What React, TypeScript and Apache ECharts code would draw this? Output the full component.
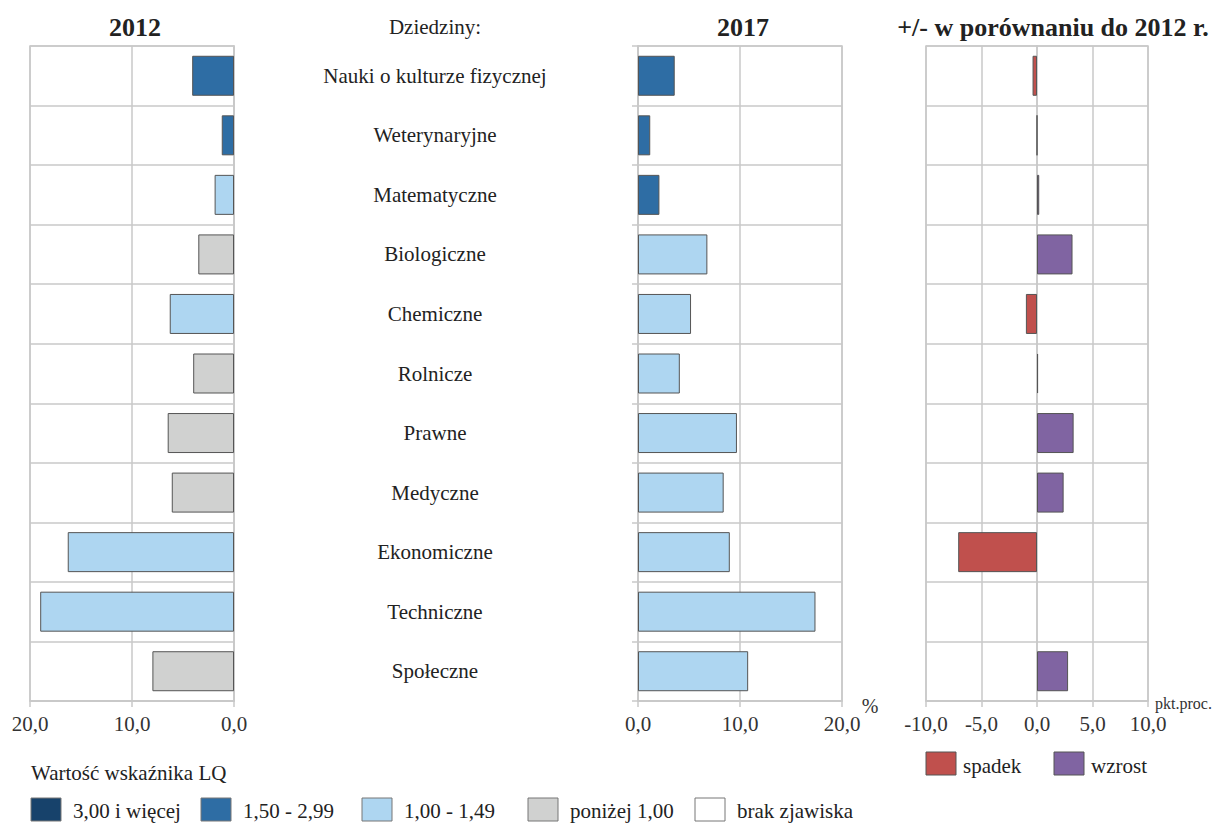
import React, { useEffect, useRef } from 'react';
import * as echarts from 'echarts';

const categories = [
  'Nauki o kulturze fizycznej',
  'Weterynaryjne',
  'Matematyczne',
  'Biologiczne',
  'Chemiczne',
  'Rolnicze',
  'Prawne',
  'Medyczne',
  'Ekonomiczne',
  'Techniczne',
  'Społeczne',
];
const values2012 = [4.1, 1.2, 1.9, 3.5, 6.3, 4.0, 6.5, 6.1, 16.3, 19.0, 8.0];
const class2012 = [1, 1, 2, 3, 2, 3, 3, 3, 2, 2, 3];
const values2017 = [3.6, 1.2, 2.1, 6.8, 5.2, 4.1, 9.7, 8.4, 9.0, 17.4, 10.8];
const class2017 = [1, 1, 1, 2, 2, 2, 2, 2, 2, 2, 2];
const diffValues: (number | null)[] = [-0.4, 0.0, 0.2, 3.2, -1.0, 0.1, 3.3, 2.4, -7.1, null, 2.8];

const lqLabels = ['3,00 i więcej', '1,50 - 2,99', '1,00 - 1,49', 'poniżej 1,00', 'brak zjawiska'];
const lqColors = ['#17426b', '#2e6da4', '#aed6f1', '#d0d1d0', '#ffffff'];
const diffLabels = ['spadek', 'wzrost'];
const diffColors = ['#c0504d', '#8064a2'];

const titles = ['2012', '2017', '+/- w porównaniu do 2012 r.'];

const FONT = 'Liberation Serif';
const GRID = { color: '#c8c8c8', width: 1.5 };
const fmt = (v: number) => v.toFixed(1).replace('.', ',');

export default function App() {
  const ref = useRef<HTMLDivElement>(null);
  useEffect(() => {
    if (!ref.current) return;
    const chart = echarts.init(ref.current, undefined, { renderer: 'svg' });

    const xBase = (idx: number, min: number, max: number, interval: number, inverse: boolean) => ({
      gridIndex: idx,
      type: 'value',
      min,
      max,
      interval,
      inverse,
      axisLine: { show: true, lineStyle: GRID },
      axisTick: { show: true, length: 6, lineStyle: GRID },
      splitLine: { show: true, lineStyle: GRID },
      axisLabel: { formatter: fmt, fontSize: 21, fontFamily: FONT, color: '#333', margin: 12 },
    });
    const yBase = (idx: number) => ({
      gridIndex: idx,
      type: 'category',
      data: categories,
      inverse: true,
      axisLine: { show: true, lineStyle: GRID },
      axisTick: { show: false, interval: 0 },
      splitLine: { show: true, interval: 0, lineStyle: GRID },
      axisLabel: { show: false, interval: 0 },
    });

    const barStyle = { borderColor: '#555', borderWidth: 1 };

    const txt = (text: string, x: number, y: number, size: number, align: string, bold = false, fill = '#222') => ({
      type: 'text', x, y,
      style: {
        text, fontSize: size, fontFamily: FONT, fontWeight: bold ? 'bold' : 'normal',
        fill, textAlign: align, textVerticalAlign: 'middle',
      },
    });

    const graphics: any[] = [];
    const titleX = [135, 743, 1053];
    titles.forEach((t, i) => graphics.push(txt(t, titleX[i], 27, 26, 'center', true)));
    graphics.push(txt('Dziedziny:', 435, 27, 21, 'center'));
    graphics.push(txt('%', 870, 706, 20, 'center', false, '#333'));
    graphics.push(txt('pkt.proc.', 1155, 703, 16, 'left', false, '#333'));
    graphics.push(txt('Wartość wskaźnika LQ', 31, 773, 21, 'left'));
    const lqBoxX = [31, 201, 362, 528, 695];
    lqLabels.forEach((l, i) => {
      graphics.push({
        type: 'rect', shape: { x: lqBoxX[i], y: 798, width: 30, height: 23 },
        style: { fill: lqColors[i], stroke: '#777', lineWidth: 1 },
      });
      graphics.push(txt(l, lqBoxX[i] + 42, 811, 21, 'left'));
    });
    const dBoxX = [926, 1054];
    diffLabels.forEach((l, i) => {
      graphics.push({
        type: 'rect', shape: { x: dBoxX[i], y: 752, width: 30, height: 23 },
        style: { fill: diffColors[i], stroke: '#555', lineWidth: 1 },
      });
      graphics.push(txt(l, dBoxX[i] + 37, 766, 21, 'left'));
    });

    chart.setOption({
      animation: false,
      backgroundColor: '#ffffff',
      textStyle: { fontFamily: FONT },
      grid: [
        { left: 30, top: 46, width: 204, height: 655, show: true, borderColor: '#c8c8c8', borderWidth: 1.5 },
        { left: 638, top: 46, width: 204, height: 655, show: true, borderColor: '#c8c8c8', borderWidth: 1.5 },
        { left: 926, top: 46, width: 222, height: 655, show: true, borderColor: '#c8c8c8', borderWidth: 1.5 },
      ],
      xAxis: [
        xBase(0, 0, 20, 10, true),
        xBase(1, 0, 20, 10, false),
        xBase(2, -10, 10, 5, false),
      ],
      yAxis: [
        {
          ...yBase(0),
          position: 'right',
          axisLabel: { show: true, interval: 0, align: 'center', margin: 201, fontSize: 21, fontFamily: FONT, color: '#222' },
        },
        {
          ...yBase(1),
          position: 'left',
          axisTick: { show: true, interval: 0, length: 6, lineStyle: GRID },
        },
        { ...yBase(2), position: 'left' },
      ],
      series: [
        {
          type: 'bar', xAxisIndex: 0, yAxisIndex: 0, barWidth: 40,
          itemStyle: barStyle,
          data: values2012.map((v, i) => ({ value: v, itemStyle: { color: lqColors[class2012[i]] } })),
        },
        {
          type: 'bar', xAxisIndex: 1, yAxisIndex: 1, barWidth: 40,
          itemStyle: barStyle,
          data: values2017.map((v, i) => ({ value: v, itemStyle: { color: lqColors[class2017[i]] } })),
        },
        {
          name: diffLabels[0],
          type: 'bar', xAxisIndex: 2, yAxisIndex: 2, barWidth: 40, barGap: '-100%',
          itemStyle: { ...barStyle, color: diffColors[0] },
          data: diffValues.map((v) => (v !== null && v < 0 ? v : '-')),
        },
        {
          name: diffLabels[1],
          type: 'bar', xAxisIndex: 2, yAxisIndex: 2, barWidth: 40, barGap: '-100%',
          itemStyle: { ...barStyle, color: diffColors[1] },
          data: diffValues.map((v) => (v !== null && v >= 0 ? v : '-')),
        },
      ],
      graphic: graphics,
    });

    return () => chart.dispose();
  }, []);

  return (
    <div
      ref={ref}
      style={{ position: 'absolute', left: 0, top: 0, width: 1218, height: 825, background: '#fff' }}
    />
  );
}
